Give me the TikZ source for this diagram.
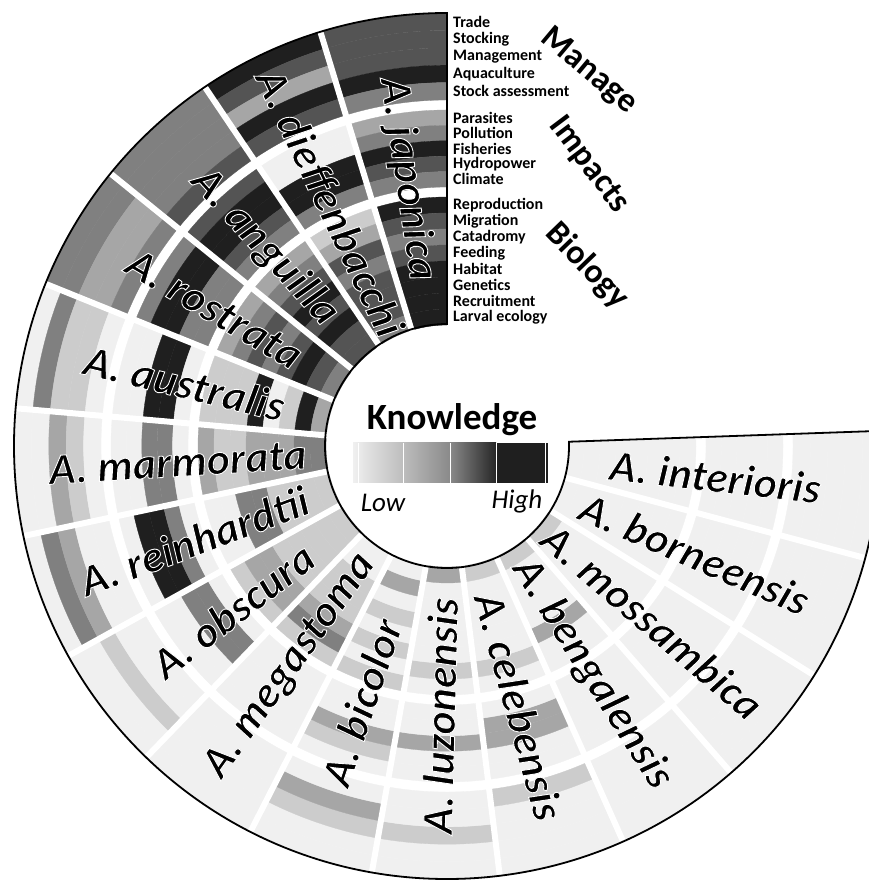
\documentclass[tikz,border=0pt]{standalone}
\usepackage{fontspec}
\setmainfont{Carlito}
\newfontfamily\speciesfont[BoldItalicFeatures={FakeBold=2}]{Carlito}

\definecolor{lv0}{gray}{0.94}
\definecolor{lv1}{gray}{0.80}
\definecolor{lv2}{gray}{0.65}
\definecolor{lv3}{gray}{0.50}
\definecolor{lv4}{gray}{0.33}
\definecolor{lv5}{gray}{0.12}

% black letters, white outline
\newcommand{\outlined}[1]{\special{pdf:literal direct 1 G}#1\special{pdf:literal direct 0 G}}

\tikzset{
  ringlabel/.style={anchor=west, inner sep=0pt, font=\bfseries\fontsize{16}{16}\selectfont},
  grouplabel/.style={inner sep=0pt, font=\bfseries\fontsize{34}{34}\selectfont},
  species/.style={inner sep=0pt, font=\speciesfont\bfseries\itshape\fontsize{44}{44}\selectfont},
  sep/.style={white, line width=6pt},
}

\begin{document}
\begin{tikzpicture}[x=1pt,y=1pt]
\useasboundingbox (-447,-436) rectangle (421,446);

% ring radii, outer to inner
\def\rOut{{433,415.6,398.2,380.8,363.4,336,320.6,305.2,289.8,274.4,249,233,217,201,185,169,153,137}}
\def\rIn{{415.6,398.2,380.8,363.4,346,320.6,305.2,289.8,274.4,259,233,217,201,185,169,153,137,121}}

% knowledge cells, one row per species
\foreach \row [count=\s from 0] in {
  {4,4,4,5,3,2,3,5,4,3,5,4,3,4,5,5,5,5},
  {5,4,2,5,4,0,0,5,5,3,1,2,4,3,4,4,4,3},
  {3,3,3,3,4,4,5,5,4,3,2,3,4,5,4,5,4,4},
  {3,3,2,2,3,3,5,5,3,3,2,3,4,3,4,5,4,3},
  {0,3,1,1,0,0,0,5,5,0,1,1,1,5,0,1,5,2},
  {0,0,2,1,0,0,0,3,3,0,2,1,1,2,2,2,3,3},
  {0,3,2,0,0,0,5,5,3,0,0,0,3,3,1,1,1,1},
  {0,0,1,0,0,0,0,3,3,0,1,2,2,1,1,1,1,1},
  {0,0,0,0,0,0,0,0,0,0,1,3,2,1,1,1,0,0},
  {0,0,1,2,0,0,1,2,0,0,1,0,1,0,1,0,2,0},
  {0,0,1,0,0,0,0,2,0,0,0,1,0,0,0,0,0,2},
  {0,0,0,0,1,0,0,2,2,0,0,1,0,0,0,0,0,1},
  {0,0,0,0,0,0,0,0,0,0,0,0,2,0,0,0,0,1},
  {0,0,0,0,0,0,0,0,0,0,0,0,0,0,0,0,0,1},
  {0,0,0,0,0,0,0,0,0,0,0,0,0,0,0,0,0,0},
  {0,0,0,0,0,0,0,0,0,0,0,0,0,0,0,0,0,0}}{
  \pgfmathsetmacro\aa{90+17*\s}
  \pgfmathsetmacro\ab{\aa+17}
  \foreach \v [count=\k from 0] in \row {
    \pgfmathsetmacro\ro{\rOut[\k]}
    \pgfmathsetmacro\ri{\rIn[\k]}
    \path[fill=lv\v, draw=lv\v, line width=0.3pt] (\aa:\ro pt) arc[start angle=\aa, end angle=\ab, radius=\ro pt]
      -- (\ab:\ri pt) arc[start angle=\ab, end angle=\aa, radius=\ri pt] -- cycle;
  }
}

% white gaps between species
\foreach \a in {107,124,...,345}
  \draw[sep] (\a:112pt) -- (\a:440pt);

% outline
\draw[line width=1.8pt] (90:433pt) arc[start angle=90, end angle=362, radius=433pt]
  -- (362:122pt) arc[start angle=362, end angle=90, radius=122pt] -- cycle;

% species names
\foreach \nm [count=\s from 0] in {japonica, dieffenbacchi, anguilla, rostrata, australis,
    marmorata, reinhardtii, obscura, megastoma, bicolor, luzonensis, celebensis,
    bengalensis, mossambica, borneensis, interioris}{
  \pgfmathsetmacro\am{98.5+17*\s}
  \pgfmathsetmacro\rot{\s<11 ? \am+180 : \am}
  \node[species, rotate=\rot] (sp\s) at (\am:270pt) {\outlined{A. \nm}};
}

% ring labels
\foreach \txt [count=\k from 0] in {Trade, Stocking, Management, Aquaculture, Stock assessment,
    Parasites, Pollution, Fisheries, Hydropower, Climate, Reproduction, Migration,
    Catadromy, Feeding, Habitat, Genetics, Recruitment, Larval ecology}{
  \pgfmathsetmacro\ro{\rOut[\k]}
  \pgfmathsetmacro\ri{\rIn[\k]}
  \pgfmathsetmacro\rc{(\ro+\ri)/2}
  \node[ringlabel] (lab\k) at (6,\rc) {\txt};
}

\node[grouplabel, rotate=-40] (manage) at (142,375) {Manage};
\node[grouplabel, rotate=-53] (impacts) at (142,281) {Impacts};
\node[grouplabel, rotate=-46] (biology) at (140,180) {Biology};

% legend
\node[font=\bfseries\fontsize{37}{37}\selectfont] (knowledge) at (5,26) {Knowledge};
\shade[left color=black!6, right color=black!26] (-94,3) rectangle (-44,-37);
\shade[left color=black!26, right color=black!46] (-44,3) rectangle (3,-37);
\shade[left color=black!46, right color=black!85] (3,3) rectangle (49,-37);
\fill[black!88] (49,3) rectangle (101,-37);
\foreach \x in {-89,-44,3,49,98}
  \draw[white, line width=0.8pt] (\x,3) -- (\x,-37);
\node[font=\itshape\fontsize{27}{27}\selectfont] (low) at (-64,-57) {Low};
\node[font=\itshape\fontsize{27}{27}\selectfont] (high) at (70,-55) {High};
\end{tikzpicture}
\end{document}
